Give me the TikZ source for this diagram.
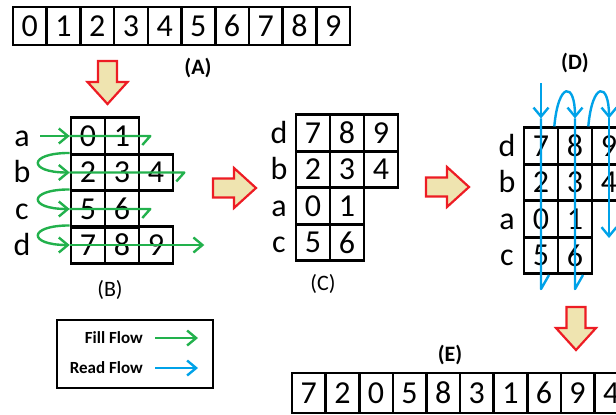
\documentclass[tikz,border=0pt]{standalone}
\usepackage{fontspec}
\setmainfont{Carlito}
\usetikzlibrary{arrows.meta}
\definecolor{fillgreen}{RGB}{34,177,76}
\definecolor{readblue}{RGB}{0,162,232}
\definecolor{arrowred}{RGB}{237,28,36}
\definecolor{arrowfill}{RGB}{239,228,176}
\begin{document}
\begin{tikzpicture}[x=1pt,y=-1pt,
  cell/.style={draw,line width=2.6pt,minimum width=34pt,minimum height=36.5pt,inner sep=0pt,font=\fontsize{32}{32}\selectfont},
  row label/.style={inner sep=0pt,text height=20pt,text depth=0pt,font=\fontsize{32}{32}\selectfont},
  tag/.style={inner sep=0pt,font=\fontsize{22}{22}\selectfont\bfseries},
  legend text/.style={inner sep=0pt,font=\fontsize{17}{17}\selectfont\bfseries},
  green flow/.style={draw=fillgreen,line width=2.4pt,line join=round},
  blue flow/.style={draw=readblue,line width=2.4pt,line join=round},
  arrowed/.style={-{Straight Barb[length=9pt,width=15pt]}},
  big arrow/.pic={\path[draw=arrowred,fill=arrowfill,line width=2.2pt,line join=miter]
    (0,-9.5) -- (21,-9.5) -- (21,-20) -- (43,0) -- (21,20) -- (21,9.5) -- (0,9.5) -- cycle;}]

  \useasboundingbox (0,0) rectangle (616,415);
  \clip (0,0) rectangle (616,415);

  % (A) input
  \node[cell,minimum width=33.7pt,minimum height=38pt] (A0) at (29.85,26) {0};
  \node[cell,minimum width=33.7pt,minimum height=38pt] (A1) at (63.55,26) {1};
  \node[cell,minimum width=33.7pt,minimum height=38pt] (A2) at (97.25,26) {2};
  \node[cell,minimum width=33.7pt,minimum height=38pt] (A3) at (130.95,26) {3};
  \node[cell,minimum width=33.7pt,minimum height=38pt] (A4) at (164.65,26) {4};
  \node[cell,minimum width=33.7pt,minimum height=38pt] (A5) at (198.35,26) {5};
  \node[cell,minimum width=33.7pt,minimum height=38pt] (A6) at (232.05,26) {6};
  \node[cell,minimum width=33.7pt,minimum height=38pt] (A7) at (265.75,26) {7};
  \node[cell,minimum width=33.7pt,minimum height=38pt] (A8) at (299.45,26) {8};
  \node[cell,minimum width=33.7pt,minimum height=38pt] (A9) at (333.15,26) {9};
  \node[tag] (tagA) at (198,68) {(A)};

  % (B) fill
  \node[cell] (B0) at (88,136) {0};
  \node[cell] (B1) at (122,136) {1};
  \node[cell] (B2) at (88,172.5) {2};
  \node[cell] (B3) at (122,172.5) {3};
  \node[cell] (B4) at (156,172.5) {4};
  \node[cell] (B5) at (88,209) {5};
  \node[cell] (B6) at (122,209) {6};
  \node[cell] (B7) at (88,245) {7};
  \node[cell] (B8) at (122,245) {8};
  \node[cell] (B9) at (156,245) {9};
  \node[row label] (Ba) at (22,136) {a};
  \node[row label] (Bb) at (22,172.5) {b};
  \node[row label] (Bc) at (22,209) {c};
  \node[row label] (Bd) at (22,245) {d};
  \node[tag,font=\fontsize{22}{22}\selectfont] (tagB) at (110,290) {(B)};

  % (C) sorted rows
  \node[cell] (C7) at (313,133) {7};
  \node[cell] (C8) at (347,133) {8};
  \node[cell] (C9) at (381,133) {9};
  \node[cell] (C2) at (313,169.5) {2};
  \node[cell] (C3) at (347,169.5) {3};
  \node[cell] (C4) at (381,169.5) {4};
  \node[cell] (C0) at (313,206) {0};
  \node[cell] (C1) at (347,206) {1};
  \node[cell] (C5) at (313,242.5) {5};
  \node[cell] (C6) at (347,242.5) {6};
  \node[row label] (Cd) at (279,133) {d};
  \node[row label] (Cb) at (279,169.5) {b};
  \node[row label] (Ca) at (279,206) {a};
  \node[row label] (Cc) at (279,242.5) {c};
  \node[tag,font=\fontsize{22}{22}\selectfont] (tagC) at (323,284) {(C)};

  % (D) read
  \node[cell] (D7) at (541,146) {7};
  \node[cell] (D8) at (575,146) {8};
  \node[cell] (D9) at (609,146) {9};
  \node[cell] (D2) at (541,182.5) {2};
  \node[cell] (D3) at (575,182.5) {3};
  \node[cell] (D4) at (609,182.5) {4};
  \node[cell] (D0) at (541,219) {0};
  \node[cell] (D1) at (575,219) {1};
  \node[cell] (D5) at (541,255.5) {5};
  \node[cell] (D6) at (575,255.5) {6};
  \node[row label] (Dd) at (507,146) {d};
  \node[row label] (Db) at (507,182.5) {b};
  \node[row label] (Da) at (507,219) {a};
  \node[row label] (Dc) at (507,255.5) {c};
  \node[tag] (tagD) at (575,63) {(D)};

  % (E) output
  \node[cell,minimum width=33.6pt,minimum height=40pt] (E7) at (308.8,393) {7};
  \node[cell,minimum width=33.6pt,minimum height=40pt] (E2) at (342.4,393) {2};
  \node[cell,minimum width=33.6pt,minimum height=40pt] (E0) at (376,393) {0};
  \node[cell,minimum width=33.6pt,minimum height=40pt] (E5) at (409.6,393) {5};
  \node[cell,minimum width=33.6pt,minimum height=40pt] (E8) at (443.2,393) {8};
  \node[cell,minimum width=33.6pt,minimum height=40pt] (E3) at (476.8,393) {3};
  \node[cell,minimum width=33.6pt,minimum height=40pt] (E1) at (510.4,393) {1};
  \node[cell,minimum width=33.6pt,minimum height=40pt] (E6) at (544,393) {6};
  \node[cell,minimum width=33.6pt,minimum height=40pt] (E9) at (577.6,393) {9};
  \node[cell,minimum width=33.6pt,minimum height=40pt] (E4) at (611.2,393) {4};
  \node[tag] (tagE) at (450,355) {(E)};

  % block arrows
  \pic[rotate=-90] at (107.5,61) {big arrow};
  \pic at (213,188) {big arrow};
  \pic at (426,187) {big arrow};
  \pic[rotate=-90] at (576,307) {big arrow};

  % fill flow
  \coordinate (ga) at (40,136);
  \draw[green flow,arrowed] (ga) -- (B0.west);
  \draw[green flow] (B0.west) -- ([xshift=10pt]B1.east) -- ++(-8,9);
  \draw[green flow,arrowed] (B2.north west) .. controls +(-42,0) and +(-42,0) .. (B2.west);
  \draw[green flow] (B2.west) -- ([xshift=10pt]B4.east) -- ++(-8,9);
  \draw[green flow,arrowed] (B5.north west) .. controls +(-42,0) and +(-42,0) .. (B5.west);
  \draw[green flow] (B5.west) -- ([xshift=10pt]B6.east) -- ++(-8,9);
  \draw[green flow,arrowed] (B7.north west) .. controls +(-42,0) and +(-42,0) .. (B7.west);
  \draw[green flow,arrowed] (B7.west) -- ([xshift=30pt]B9.east);

  % read flow
  \coordinate (rd) at (541,83);
  \draw[blue flow,arrowed] (rd) -- ([yshift=8pt]D7.north);
  \draw[blue flow] ([yshift=8pt]D7.north) -- ([yshift=-14pt]D5.south) -- ++(8,-14);
  \draw[blue flow,arrowed] ([xshift=-5pt]D7.north east) .. controls +(4,-45) and +(0,-37) .. ([yshift=8pt]D8.north);
  \draw[blue flow] ([yshift=8pt]D8.north) -- ([yshift=-14pt]D6.south) -- ++(8,-14);
  \draw[blue flow,arrowed] ([xshift=-5pt]D8.north east) .. controls +(4,-45) and +(0,-37) .. ([yshift=8pt]D9.north);
  \draw[blue flow,arrowed] ([yshift=8pt]D9.north) -- ([yshift=-36pt]D4.south);

  % legend
  \node[draw,line width=2.8pt,minimum width=156pt,minimum height=68pt] (legend) at (135,354) {};
  \node[legend text,anchor=east] (fillflow) at (143,338) {Fill Flow};
  \node[legend text,anchor=east] (readflow) at (143,368) {Read Flow};
  \draw[green flow,arrowed] ([xshift=12pt]fillflow.east) -- ++(43,0);
  \draw[blue flow,arrowed] ([xshift=12pt]readflow.east) -- ++(43,0);
\end{tikzpicture}
\end{document}
